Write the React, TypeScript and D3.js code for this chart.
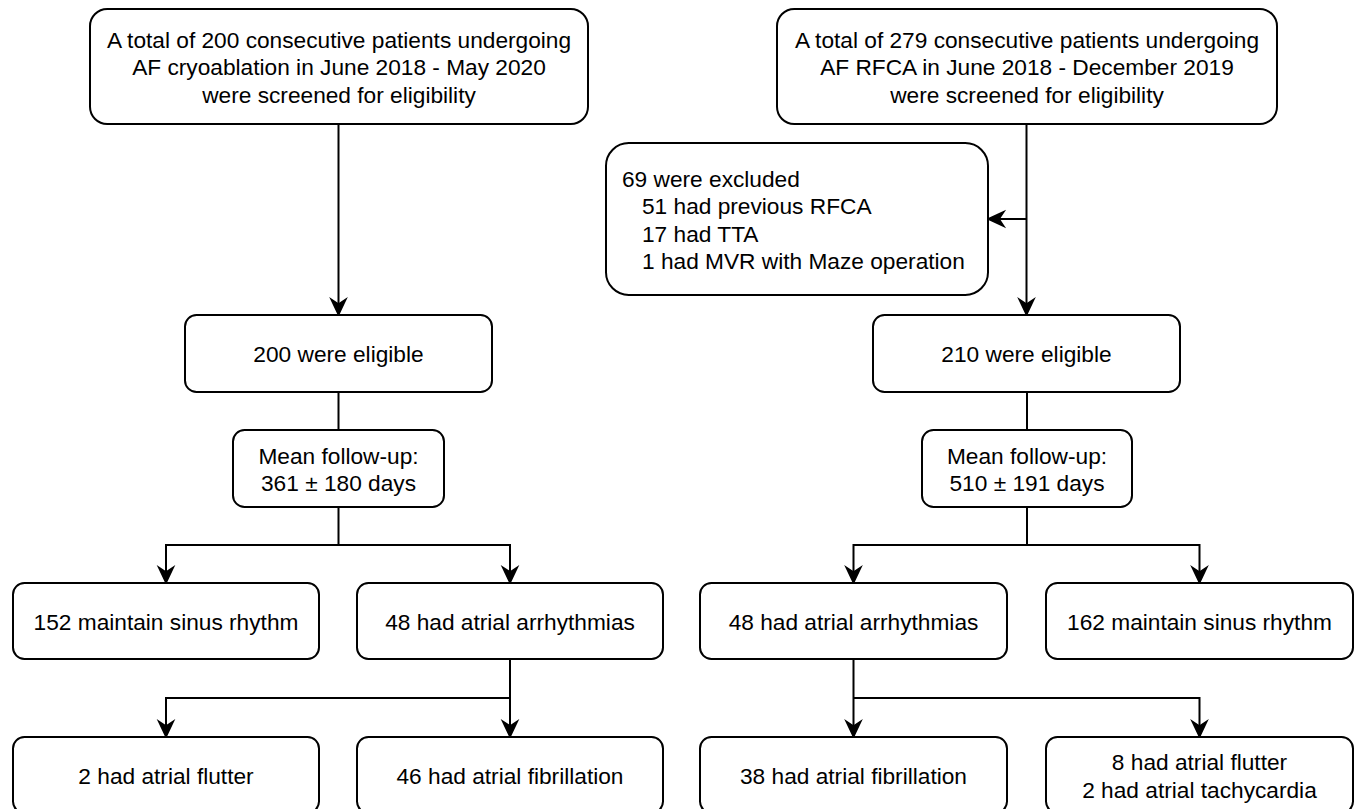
import React from "react";
import * as d3 from "d3";

// ---------- data (labels only) ----------
const screenLeft = [
  "A total of 200 consecutive patients undergoing",
  "AF cryoablation in June 2018 - May 2020",
  "were screened for eligibility",
];
const screenRight = [
  "A total of 279 consecutive patients undergoing",
  "AF RFCA in June 2018 - December 2019",
  "were screened for eligibility",
];
const exclusionLines = [
  "69 were excluded",
  "51 had previous RFCA",
  "17 had TTA",
  "1 had MVR with Maze operation",
];
const eligibleLabels = ["200 were eligible", "210 were eligible"];
const followUpLeft = ["Mean follow-up:", "361 ± 180 days"];
const followUpRight = ["Mean follow-up:", "510 ± 191 days"];
const outcomesLeft = ["152 maintain sinus rhythm", "48 had atrial arrhythmias"];
const outcomesRight = ["48 had atrial arrhythmias", "162 maintain sinus rhythm"];
const subtypesLeft = [["2 had atrial flutter"], ["46 had atrial fibrillation"]];
const subtypesRight = [["38 had atrial fibrillation"], ["8 had atrial flutter", "2 had atrial tachycardia"]];

// ---------- layout ----------
const W = 1354;
const H = 809;
const FONT = "'Liberation Sans', Arial, Helvetica, sans-serif";
const FS = 22.7;
const LH = 27.3;

const rowNames = ["screen", "exclusion", "eligible", "follow", "outcome", "subtype"];
const rowTop = d3.scaleOrdinal<string, number>().domain(rowNames).range([9, 143, 315, 430, 583, 737]);
const rowBottom = d3.scaleOrdinal<string, number>().domain(rowNames).range([124, 295, 392, 507, 659, 813]);

const colNames = ["Lscreen", "Lelig", "Lfollow", "LoutA", "LoutB", "Rscreen", "Rexcl", "Relig", "Rfollow", "RoutA", "RoutB"];
const colLeft = d3.scaleOrdinal<string, number>().domain(colNames)
  .range([90, 185, 233, 13, 357, 777, 606, 873, 922, 700, 1046]);
const colRight = d3.scaleOrdinal<string, number>().domain(colNames)
  .range([588, 492, 444, 319, 663, 1277, 988, 1180, 1132, 1007, 1353]);

type Node = { id: string; col: string; row: string; lines: string[]; align?: "left" | "center" };

const nodes: Node[] = [
  { id: "Ls", col: "Lscreen", row: "screen", lines: screenLeft },
  { id: "Le", col: "Lelig", row: "eligible", lines: [eligibleLabels[0]] },
  { id: "Lf", col: "Lfollow", row: "follow", lines: followUpLeft },
  { id: "Lo0", col: "LoutA", row: "outcome", lines: [outcomesLeft[0]] },
  { id: "Lo1", col: "LoutB", row: "outcome", lines: [outcomesLeft[1]] },
  { id: "Lt0", col: "LoutA", row: "subtype", lines: subtypesLeft[0] },
  { id: "Lt1", col: "LoutB", row: "subtype", lines: subtypesLeft[1] },
  { id: "Rs", col: "Rscreen", row: "screen", lines: screenRight },
  { id: "Rx", col: "Rexcl", row: "exclusion", lines: exclusionLines, align: "left" },
  { id: "Re", col: "Relig", row: "eligible", lines: [eligibleLabels[1]] },
  { id: "Rf", col: "Rfollow", row: "follow", lines: followUpRight },
  { id: "Ro0", col: "RoutA", row: "outcome", lines: [outcomesRight[0]] },
  { id: "Ro1", col: "RoutB", row: "outcome", lines: [outcomesRight[1]] },
  { id: "Rt0", col: "RoutA", row: "subtype", lines: subtypesRight[0] },
  { id: "Rt1", col: "RoutB", row: "subtype", lines: subtypesRight[1] },
];

function box(n: Node) {
  const x0 = colLeft(n.col), x1 = colRight(n.col), y0 = rowTop(n.row), y1 = rowBottom(n.row);
  return { x0, x1, y0, y1, cx: (x0 + x1) / 2, cy: (y0 + y1) / 2 };
}
const byId: Record<string, ReturnType<typeof box>> = {};
nodes.forEach((n) => (byId[n.id] = box(n)));

type Edge =
  | { kind: "line"; from: string; to: string }
  | { kind: "arrow"; from: string; to: string }
  | { kind: "fork"; from: string; to: [string, string] }
  | { kind: "side"; trunk: string; to: string };

const edges: Edge[] = [
  { kind: "arrow", from: "Ls", to: "Le" },
  { kind: "line", from: "Le", to: "Lf" },
  { kind: "fork", from: "Lf", to: ["Lo0", "Lo1"] },
  { kind: "fork", from: "Lo1", to: ["Lt0", "Lt1"] },
  { kind: "arrow", from: "Rs", to: "Re" },
  { kind: "side", trunk: "Re", to: "Rx" },
  { kind: "line", from: "Re", to: "Rf" },
  { kind: "fork", from: "Rf", to: ["Ro0", "Ro1"] },
  { kind: "fork", from: "Ro0", to: ["Rt0", "Rt1"] },
];

const AL = 16; // arrow length
const AW = 7.5; // half width
const AN = 11; // notch depth

function arrowHead(tx: number, ty: number, dx: number, dy: number) {
  const nx = -dy, ny = dx;
  const bx = tx - dx * AL, by = ty - dy * AL;
  const p = d3.path();
  p.moveTo(tx, ty);
  p.lineTo(bx + nx * AW, by + ny * AW);
  p.lineTo(tx - dx * AN, ty - dy * AN);
  p.lineTo(bx - nx * AW, by - ny * AW);
  p.closePath();
  return p.toString();
}

function edgeShapes(e: Edge, i: number) {
  const lines: string[] = [];
  const heads: string[] = [];
  if (e.kind === "line") {
    const a = byId[e.from], b = byId[e.to];
    const p = d3.path();
    p.moveTo(b.cx, a.y1);
    p.lineTo(b.cx, b.y0);
    lines.push(p.toString());
  } else if (e.kind === "arrow") {
    const a = byId[e.from], b = byId[e.to];
    const p = d3.path();
    p.moveTo(b.cx, a.y1);
    p.lineTo(b.cx, b.y0 - AN);
    lines.push(p.toString());
    heads.push(arrowHead(b.cx, b.y0, 0, 1));
  } else if (e.kind === "fork") {
    const a = byId[e.from];
    const b0 = byId[e.to[0]], b1 = byId[e.to[1]];
    const my = (a.y1 + b0.y0) / 2;
    const p = d3.path();
    p.moveTo(a.cx, a.y1);
    p.lineTo(a.cx, my);
    p.moveTo(b0.cx - 1, my);
    p.lineTo(b1.cx + 1, my);
    [b0, b1].forEach((b) => {
      p.moveTo(b.cx, my);
      p.lineTo(b.cx, b.y0 - AN);
      heads.push(arrowHead(b.cx, b.y0, 0, 1));
    });
    lines.push(p.toString());
  } else if (e.kind === "side") {
    const t = byId[e.trunk], b = byId[e.to];
    const p = d3.path();
    p.moveTo(t.cx, b.cy);
    p.lineTo(b.x1 + AN, b.cy);
    lines.push(p.toString());
    heads.push(arrowHead(b.x1, b.cy, -1, 0));
  }
  return (
    <g key={"e" + i}>
      {lines.map((d, j) => (
        <path key={j} d={d} fill="none" stroke="#000" strokeWidth={2} />
      ))}
      {heads.map((d, j) => (
        <path key={"h" + j} d={d} fill="#000" stroke="#000" strokeWidth={1.5} strokeLinejoin="miter" />
      ))}
    </g>
  );
}

function NodeBox({ n }: { n: Node }) {
  const b = byId[n.id];
  const w = b.x1 - b.x0, h = b.y1 - b.y0;
  const r = Math.min(w, h) * 0.15;
  const startY = b.cy - ((n.lines.length - 1) * LH) / 2 + 1;
  const left = n.align === "left";
  return (
    <g>
      <rect x={b.x0} y={b.y0} width={w} height={h} rx={r} ry={r} fill="#fff" stroke="#000" strokeWidth={2} />
      {n.lines.map((t, i) => {
        const tx = left ? b.x0 + 16 + (i > 0 ? 20 : 0) : b.cx;
        return (
          <text
            key={i}
            x={tx}
            y={startY + i * LH}
            dy="0.35em"
            textAnchor={left ? "start" : "middle"}
            fontFamily={FONT}
            fontSize={FS}
            fill="#000"
          >
            {t}
          </text>
        );
      })}
    </g>
  );
}

export default function App() {
  return (
    <svg
      width={W}
      height={H}
      viewBox={`0 0 ${W} ${H}`}
      style={{ position: "absolute", left: 0, top: 0, background: "#fff" }}
    >
      <rect x={0} y={0} width={W} height={H} fill="#fff" />
      {edges.map((e, i) => edgeShapes(e, i))}
      {nodes.map((n) => (
        <NodeBox key={n.id} n={n} />
      ))}
    </svg>
  );
}
